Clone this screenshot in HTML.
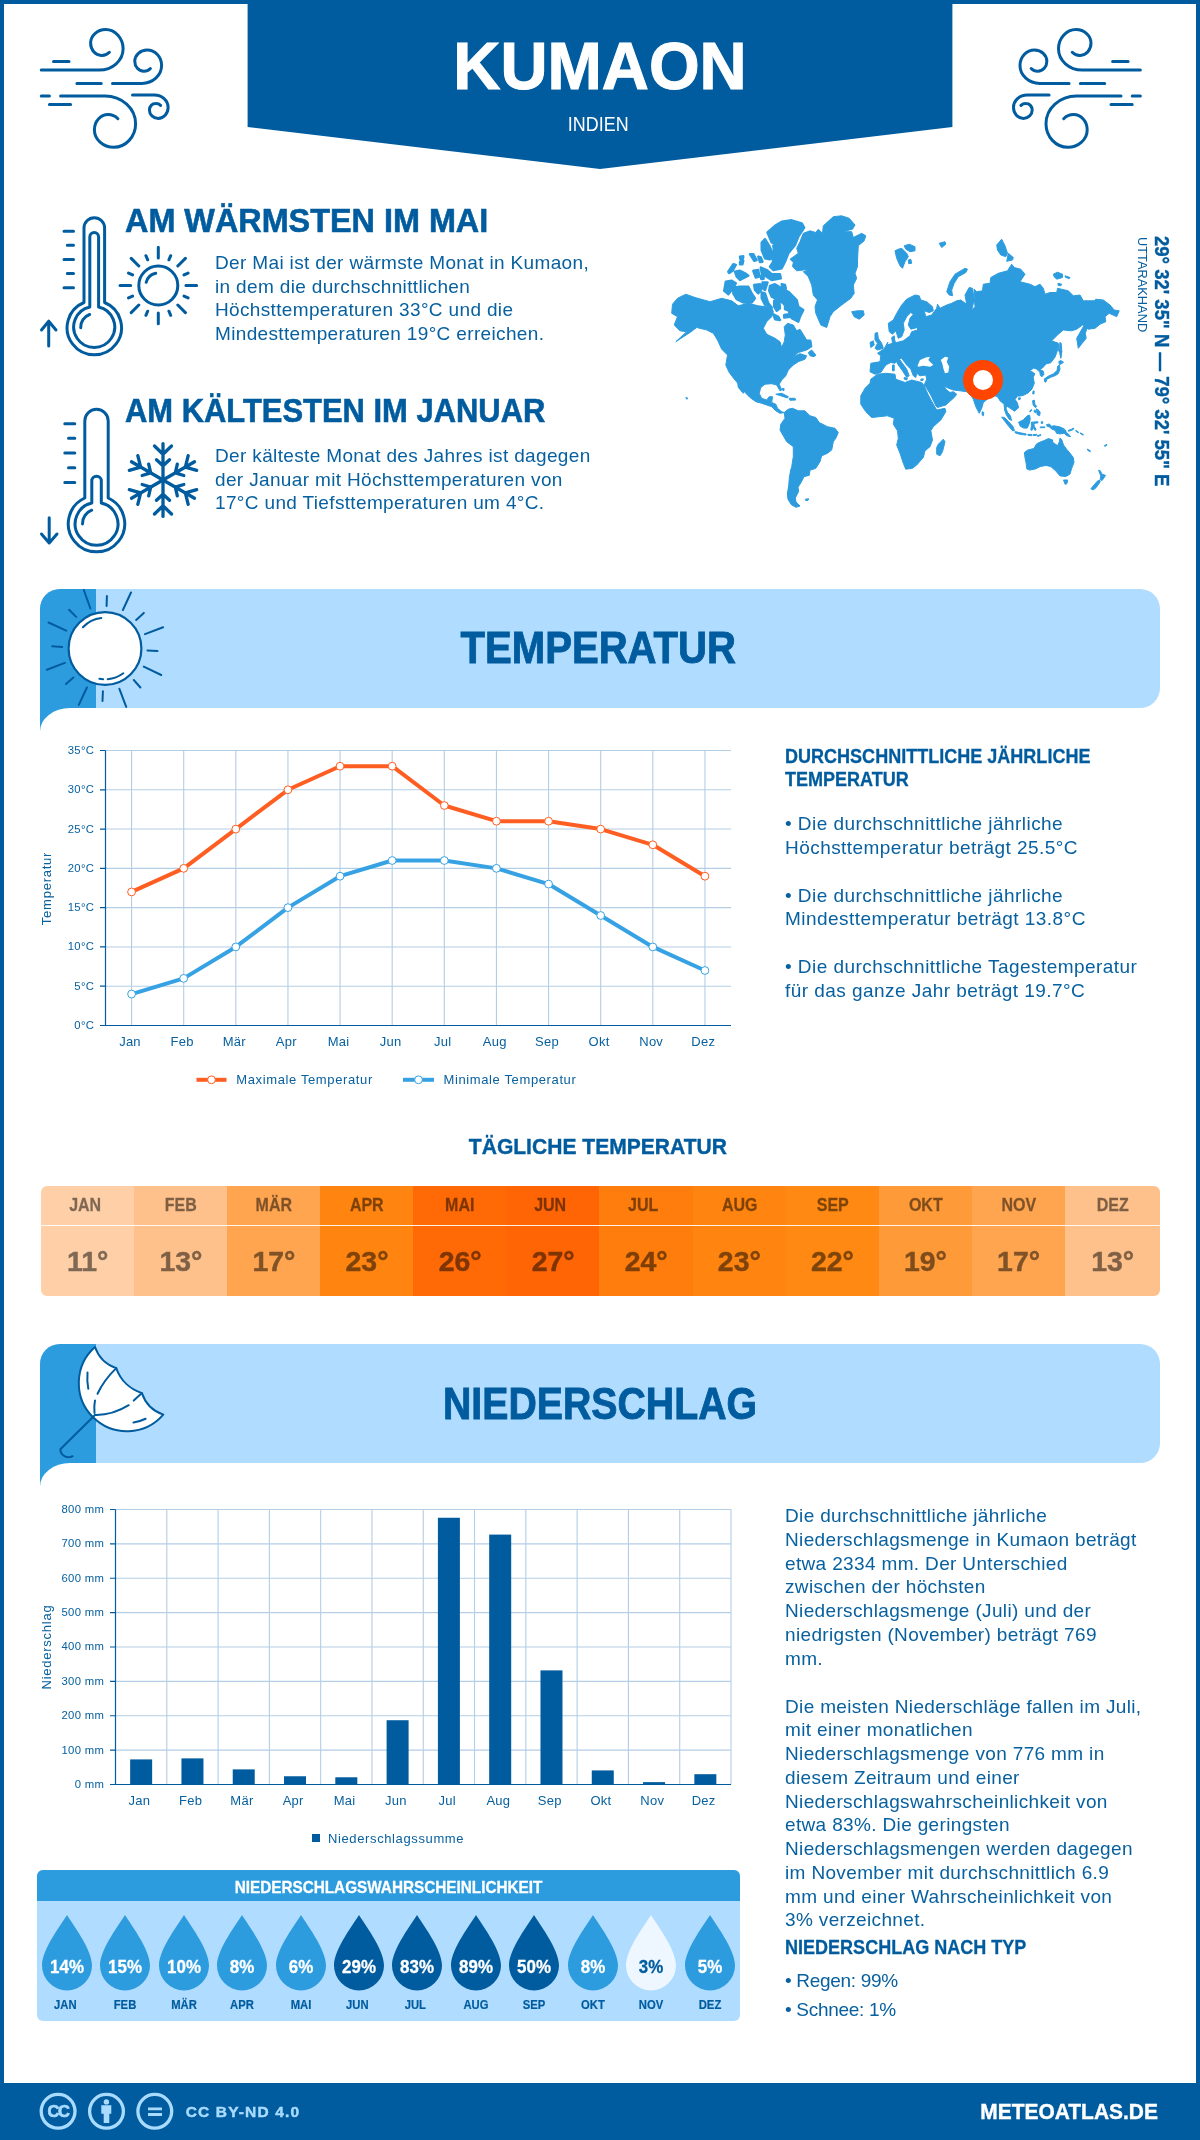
<!DOCTYPE html>
<html lang="de">
<head>
<meta charset="utf-8">
<title>Kumaon</title>
<style>
*{box-sizing:border-box;margin:0;padding:0}
html,body{width:1200px;height:2140px;overflow:hidden;background:#fff}
body{font-family:"Liberation Sans",sans-serif;color:#005c9e;position:relative}
#w{position:absolute;left:0;top:0;width:1200px;height:2140px;will-change:transform}
.abs{position:absolute}
.frame{position:absolute;left:0;top:0;width:1200px;height:2140px;border:4px solid #005c9e;border-bottom:none;pointer-events:none}
.t{position:absolute;white-space:nowrap;line-height:1}
.b{font-weight:bold}
.dk{color:#005c9e}
.md{color:#07609f}
.p{position:absolute;margin-top:.5px;white-space:nowrap;font-size:19px;line-height:23.75px;color:#07609f;letter-spacing:0.35px}
.band{position:absolute;left:40px;width:1120px;height:118px;background:#b0dcff;border-radius:22px}
.bandL{position:absolute;left:40px;width:56px;background:#2d9cdf}
.cell{position:absolute;top:0;height:110px;width:94px}
.cell .m{position:absolute;left:0;right:0;top:9.4px;text-align:center;font-weight:bold;font-size:18.2px;color:#000;opacity:.5;-webkit-text-stroke:.3px;line-height:20px;transform:scaleX(.88)}
.cell .v{position:absolute;left:0;right:0;top:59px;text-align:center;font-weight:bold;font-size:28.4px;color:#000;opacity:.5;-webkit-text-stroke:.5px;line-height:32px;transform:scaleX(1)}
.drop{position:absolute;top:1915.300px;width:50px;height:76px}
.drop span{position:absolute;left:-8px;right:-8px;top:41.900px;text-align:center;font-weight:bold;font-size:18.200px;color:#fff;line-height:20px;-webkit-text-stroke:.3px;transform:scaleX(.93)}
.dm{position:absolute;top:1998.300px;width:60px;text-align:center;font-weight:bold;font-size:13.100px;line-height:14px;color:#005c9e;-webkit-text-stroke:.2px;transform:scaleX(.86)}
</style>
</head>
<body>
<div id="w">
<!-- HEADER -->
<svg class="abs" style="left:0;top:0" width="1200" height="180" viewBox="0 0 1200 180">
  <polygon points="247.600,0 952.400,0 952.400,127 600,169 247.600,127" fill="#005c9e"/>
</svg>
<div class="t b" id="title" style="-webkit-text-stroke:1.1px;left:0;width:1200px;text-align:center;top:32.1px;font-size:67px;color:#fff;transform:scaleX(.973)">KUMAON</div>
<div class="t" id="sub" style="left:0;width:1196.5px;text-align:center;top:115px;font-size:19.4px;color:#fff;transform:scaleX(.925)">INDIEN</div>

<!-- WIND ICONS -->
<svg class="abs" style="left:0;top:0" width="1200" height="180" viewBox="0 0 1200 180" fill="none" stroke="#005c9e" stroke-width="3" stroke-linecap="round" stroke-linejoin="round">
  <g>
    <path d="M41.250,70 H99.400 A23.700,21.250 0 0 0 123.100,48.750 A17.500,19.150 0 0 0 105.600,29.600 A15,13.500 0 0 0 90.600,43.100 A10.650,12.300 0 0 0 101.250,55.400 A10.500,10.500 0 0 0 109.400,52.250"/>
    <path d="M112.500,83.400 H141.900 A19.700,17.800 0 0 0 161.600,65.600 A14.500,15.600 0 0 0 147.100,50 A12.350,11.250 0 0 0 134.750,61.250 A9,10 0 0 0 143.750,71.250 A9,9 0 0 0 150.400,68.500"/>
    <path d="M76.900,83.400 H101.250 M53.500,61.600 H69 M41.250,96 H49.400 M49.400,104.400 H70.600"/>
    <path d="M60.600,96 H105 A30.600,27.750 0 0 1 135.600,123.750 A21.850,23.500 0 0 1 113.750,147.250 A19.350,17.500 0 0 1 94.400,129.750 A13.700,15.150 0 0 1 108.100,114.600 A14,14 0 0 1 117.900,118.750"/>
    <path d="M132.500,95 H154.400 A13.700,12.500 0 0 1 168.100,107.500 A10,10.900 0 0 1 158.100,118.400 A8.700,8.400 0 0 1 149.400,110 A6.200,6.500 0 0 1 155.600,103.500 A6.500,6.500 0 0 1 160.600,105.400"/>
  </g>
  <g transform="translate(1181.600,0) scale(-1,1)">
    <path d="M41.250,70 H99.400 A23.700,21.250 0 0 0 123.100,48.750 A17.500,19.150 0 0 0 105.600,29.600 A15,13.500 0 0 0 90.600,43.100 A10.650,12.300 0 0 0 101.250,55.400 A10.500,10.500 0 0 0 109.400,52.250"/>
    <path d="M112.500,83.400 H141.900 A19.700,17.800 0 0 0 161.600,65.600 A14.500,15.600 0 0 0 147.100,50 A12.350,11.250 0 0 0 134.750,61.250 A9,10 0 0 0 143.750,71.250 A9,9 0 0 0 150.400,68.500"/>
    <path d="M76.900,83.400 H101.250 M53.500,61.600 H69 M41.250,96 H49.400 M49.400,104.400 H70.600"/>
    <path d="M60.600,96 H105 A30.600,27.750 0 0 1 135.600,123.750 A21.850,23.500 0 0 1 113.750,147.250 A19.350,17.500 0 0 1 94.400,129.750 A13.700,15.150 0 0 1 108.100,114.600 A14,14 0 0 1 117.900,118.750"/>
    <path d="M132.500,95 H154.400 A13.700,12.500 0 0 1 168.100,107.500 A10,10.900 0 0 1 158.100,118.400 A8.700,8.400 0 0 1 149.400,110 A6.200,6.500 0 0 1 155.600,103.500 A6.500,6.500 0 0 1 160.600,105.400"/>
  </g>
</svg>

<!-- INTRO TEXT -->
<div class="t b dk" id="h1" style="-webkit-text-stroke:.6px;left:124.5px;top:204px;font-size:33px;transform-origin:left;transform:scaleX(.981)">AM WÄRMSTEN IM MAI</div>
<div class="p" id="p1" style="left:215px;top:250.4px">Der Mai ist der wärmste Monat in Kumaon,<br>in dem die durchschnittlichen<br>Höchsttemperaturen 33°C und die<br>Mindesttemperaturen 19°C erreichen.</div>
<div class="t b dk" id="h2" style="-webkit-text-stroke:.6px;left:124.5px;top:394px;font-size:33px;transform-origin:left;transform:scaleX(.937)">AM KÄLTESTEN IM JANUAR</div>
<div class="p" id="p2" style="left:215px;top:443.4px">Der kälteste Monat des Jahres ist dagegen<br>der Januar mit Höchsttemperaturen von<br>17°C und Tiefsttemperaturen um 4°C.</div>
<!-- THERMOMETER WARM -->
<svg class="abs" style="left:30px;top:200px" width="200" height="170" viewBox="30 200 200 170" fill="none" stroke="#005c9e" stroke-width="3" stroke-linecap="round" stroke-linejoin="round">
  <path d="M84,302.500 V228 a10.300,10.300 0 0 1 20.600,0 V302.500 a27.200,27.200 0 1 1 -20.600,0 Z"/>
  <path d="M89.800,307 V237 a4.400,4.400 0 0 1 8.800,0 V307 a20.500,20.500 0 1 1 -8.800,0 Z"/>
  <path d="M80.7,327.7 A13.5,13.5 0 0 1 89.6,314.5"/>
  <path d="M64,231.200 H73.500 M67.300,245.300 H73.500 M64,259.500 H73.500 M67.300,273.500 H73.500 M64,287.700 H73.500"/>
  <path d="M48.700,346 V321.500 M41.500,330 L48.700,321.200 L56,330"/>
  <circle cx="158.3" cy="285.5" r="19.500"/>
  <path d="M146.2,282.3 A12.5,12.5 0 0 1 155.7,273.3"/>
  <path d="M185.9,285.5 L196.6,285.5 M177.8,305.0 L185.4,312.6 M158.3,313.1 L158.3,323.8 M138.8,305.0 L131.2,312.6 M130.7,285.5 L120.0,285.5 M138.8,266.0 L131.2,258.4 M158.3,257.9 L158.3,247.2 M177.8,266.0 L185.4,258.4"/>
  <path d="M184.0,296.1 L188.1,297.9 M168.9,311.2 L170.7,315.3 M147.7,311.2 L145.9,315.3 M132.6,296.1 L128.5,297.9 M132.6,274.9 L128.5,273.1 M147.7,259.8 L145.9,255.7 M168.9,259.8 L170.7,255.7 M184.0,274.9 L188.1,273.1"/>
</svg>
<!-- THERMOMETER COLD -->
<svg class="abs" style="left:30px;top:390px" width="200" height="170" viewBox="30 390 200 170" fill="none" stroke="#005c9e" stroke-width="3" stroke-linecap="round" stroke-linejoin="round">
  <path d="M84.800,498 V421 a11.700,11.700 0 0 1 23.400,0 V498 a28.200,28.200 0 1 1 -23.400,0 Z"/>
  <path d="M91.800,503 V481 a4.750,4.750 0 0 1 9.500,0 V503 a21.400,21.400 0 1 1 -9.500,0 Z"/>
  <path d="M82.5,523.9 A14,14 0 0 1 91.7,510.2"/>
  <path d="M64.800,423.700 H74.800 M68.500,438.300 H74.800 M64.800,453 H74.800 M68.500,467.800 H74.800 M64.800,482.500 H74.800"/>
  <path d="M49.200,517.800 V542.500 M41.500,534 L49.200,543 L57,534"/>
  <g stroke-width="3.300" transform="translate(163,480)">
    <path d="M0,0 V-36.400 M-8.500,-34 L0,-25.800 L8.500,-34 M-6.500,-20.300 L0,-14.200 L6.500,-20.300"/><g transform="rotate(60)"><path d="M0,0 V-36.400 M-8.500,-34 L0,-25.800 L8.500,-34 M-6.500,-20.300 L0,-14.200 L6.500,-20.300"/></g><g transform="rotate(120)"><path d="M0,0 V-36.400 M-8.500,-34 L0,-25.800 L8.500,-34 M-6.500,-20.300 L0,-14.200 L6.500,-20.300"/></g><g transform="rotate(180)"><path d="M0,0 V-36.400 M-8.500,-34 L0,-25.800 L8.500,-34 M-6.500,-20.300 L0,-14.200 L6.500,-20.300"/></g><g transform="rotate(240)"><path d="M0,0 V-36.400 M-8.500,-34 L0,-25.800 L8.500,-34 M-6.500,-20.300 L0,-14.200 L6.500,-20.300"/></g><g transform="rotate(300)"><path d="M0,0 V-36.400 M-8.500,-34 L0,-25.800 L8.500,-34 M-6.500,-20.300 L0,-14.200 L6.500,-20.300"/></g>
  </g>
</svg>
<!--MAP-->
<!-- WORLD MAP -->
<svg class="abs" style="left:660px;top:205px" width="480" height="320" viewBox="660 205 480 320">
  <path d="M672.5,304.2 L677.5,298.3 L685.8,294.2 L695.0,297.5 L710.0,301.7 L721.7,298.3 L731.7,300.8 L738.3,305.8 L748.3,303.3 L758.3,305.8 L765.0,306.7 L771.7,307.5 L773.3,311.7 L771.7,316.7 L766.7,321.7 L763.3,328.3 L766.7,334.2 L775.0,338.3 L780.0,341.7 L781.7,347.5 L784.2,341.7 L785.3,335.0 L784.2,326.7 L787.5,323.3 L793.3,325.0 L796.7,330.8 L800.0,329.2 L806.7,340.0 L810.8,340.0 L812.0,346.7 L806.7,350.0 L798.3,352.5 L793.3,356.7 L800.0,353.7 L806.7,355.8 L805.0,359.2 L798.3,361.7 L793.3,365.0 L788.3,370.0 L785.8,375.8 L781.7,380.0 L779.2,384.2 L781.7,390.0 L780.0,390.8 L776.7,385.0 L771.7,383.7 L765.0,384.2 L760.8,387.5 L759.2,393.3 L761.7,398.3 L766.7,400.0 L769.2,396.7 L772.5,396.7 L771.7,402.5 L775.8,404.2 L777.5,408.3 L781.7,411.7 L784.2,412.5 L780.0,413.3 L775.8,410.8 L771.7,406.7 L766.7,405.0 L761.7,403.3 L755.8,401.7 L750.0,397.5 L745.8,393.3 L740.0,385.8 L735.0,380.0 L729.2,372.5 L725.8,365.0 L727.5,355.0 L721.7,349.2 L717.5,340.0 L713.3,333.3 L706.7,330.0 L696.7,327.5 L690.0,332.5 L675.8,341.7 L686.7,331.7 L680.0,330.8 L674.2,325.0 L677.5,316.7 L671.7,313.3Z M737.5,381.7 L739.2,382.5 L744.2,391.7 L743.3,393.3 L738.3,387.5Z M808.3,352.5 L811.7,350.0 L815.8,355.0 L814.2,356.7 L810.0,355.8Z M775.8,394.2 L781.7,393.3 L788.3,396.7 L787.5,398.0 L780.8,395.8Z M789.2,398.3 L795.0,398.3 L795.8,400.0 L790.0,400.3Z M685.8,397.5 L688.0,398.3 L686.7,399.2Z M782.5,388.3 L784.2,388.7 L783.7,390.8 L782.3,390.0Z M810.0,269.2 L796.7,270.8 L792.5,266.7 L793.3,262.5 L790.0,259.2 L798.3,253.3 L796.7,248.3 L800.0,241.7 L803.3,233.3 L810.0,230.8 L815.8,232.5 L818.3,229.2 L822.5,233.3 L823.3,225.8 L833.3,216.7 L841.7,215.8 L849.2,218.3 L855.0,225.0 L852.5,229.2 L842.5,231.7 L851.7,231.7 L853.3,237.5 L861.7,233.3 L865.8,235.8 L864.2,240.8 L858.3,245.8 L857.5,260.0 L857.5,266.7 L855.0,273.3 L856.7,278.3 L853.3,285.0 L854.2,293.3 L850.8,298.3 L841.7,305.0 L833.3,311.7 L830.0,316.7 L826.7,327.5 L820.8,325.0 L815.8,313.3 L815.0,306.7 L817.5,300.0 L813.3,295.0 L811.7,285.0 L808.3,276.7 L803.3,271.7Z M851.7,311.7 L857.5,310.8 L863.3,310.8 L864.2,315.0 L859.2,319.2 L854.2,316.7Z M895.0,250.8 L898.3,249.2 L901.7,248.3 L906.7,253.3 L908.3,256.7 L905.0,261.7 L902.5,268.3 L900.0,265.8 L896.7,258.3Z M904.2,245.8 L909.2,244.2 L915.0,246.7 L915.0,250.8 L910.0,251.7 L905.8,249.2Z M908.3,260.0 L910.8,259.2 L911.7,263.3 L908.7,263.7Z M939.2,243.3 L945.0,241.7 L945.8,244.2 L941.7,247.5Z M946.7,291.7 L950.0,281.7 L955.0,274.2 L965.0,268.3 L967.5,269.2 L965.8,272.5 L958.3,276.7 L954.2,283.3 L951.7,290.0 L952.5,295.8 L949.2,295.0Z M996.7,245.0 L1001.7,239.2 L1005.0,245.8 L1007.5,253.3 L1005.8,256.7 L1000.8,255.0 L997.5,250.0Z M1008.3,253.3 L1013.3,257.5 L1012.5,260.0 L1006.7,261.3Z M1053.3,274.2 L1057.5,272.2 L1062.5,274.2 L1062.5,277.5 L1056.7,279.2 L1054.2,276.7Z M1065.0,275.8 L1070.0,277.5 L1069.2,278.7 L1065.3,277.2Z M1058.0,283.3 L1061.7,284.2 L1060.8,285.8 L1058.0,285.3Z M875.0,333.3 L877.5,332.5 L878.3,338.3 L881.7,343.3 L883.3,348.3 L877.5,350.0 L875.0,348.3 L877.5,343.3 L875.0,340.0Z M870.0,342.5 L873.3,340.8 L874.2,345.0 L870.8,347.5Z M888.3,323.3 L893.3,320.0 L896.7,313.3 L901.7,305.0 L906.7,299.2 L915.0,295.0 L919.2,295.8 L920.8,300.0 L926.7,301.7 L932.5,306.7 L933.3,310.8 L929.2,312.5 L924.2,310.8 L925.8,316.7 L931.7,315.0 L936.7,326.7 L926.7,336.7 L917.5,330.0 L917.5,327.5 L910.8,329.2 L908.3,325.0 L910.0,318.3 L913.3,314.2 L910.8,312.5 L906.7,316.7 L903.3,323.3 L904.2,330.0 L901.7,336.7 L898.3,338.3 L895.8,330.8 L892.5,334.2 L889.2,331.7Z M931.7,315.0 L936.7,308.3 L937.5,304.2 L940.0,308.3 L946.7,305.0 L951.7,303.3 L956.7,300.8 L960.8,300.0 L966.7,304.2 L965.0,295.0 L969.2,287.5 L972.5,288.3 L974.2,300.0 L971.7,310.0 L975.0,306.7 L974.2,296.7 L974.2,289.2 L976.7,291.7 L982.5,290.8 L983.3,284.2 L990.0,283.3 L990.8,277.5 L998.3,273.3 L1007.5,270.8 L1011.7,264.2 L1014.2,267.5 L1020.8,269.2 L1025.0,274.2 L1020.0,281.7 L1030.0,284.2 L1035.0,286.7 L1040.0,284.2 L1043.3,288.3 L1045.0,294.2 L1050.0,292.5 L1056.7,292.5 L1057.5,288.3 L1068.3,290.8 L1073.3,295.8 L1080.0,295.0 L1083.3,300.8 L1094.2,300.8 L1095.8,299.2 L1103.3,300.0 L1110.0,305.0 L1114.2,310.0 L1119.2,310.8 L1116.7,316.7 L1109.2,313.3 L1105.0,316.7 L1105.8,321.7 L1100.0,324.2 L1095.0,328.3 L1088.3,329.2 L1082.5,325.0 L1076.7,329.2 L1071.7,330.8 L1063.3,330.0 L1058.3,334.2 L1051.7,340.8 L1058.3,343.3 L1059.2,351.7 L1056.5,342.3 L1058.2,344.7 L1057.1,351.7 L1054.8,357.5 L1050.7,362.8 L1046.0,363.9 L1042.5,368.0 L1039.6,369.8 L1043.1,370.9 L1043.9,374.4 L1041.9,376.8 L1040.2,375.0 L1039.9,372.1 L1036.7,369.2 L1033.8,368.0 L1029.7,370.9 L1032.6,372.1 L1034.9,373.8 L1033.2,377.3 L1034.3,383.2 L1032.0,389.0 L1027.9,393.1 L1023.2,395.4 L1020.3,396.0 L1017.4,396.0 L1015.1,399.5 L1017.4,403.0 L1018.6,407.7 L1014.5,411.2 L1011.0,408.8 L1007.5,406.5 L1005.8,407.7 L1007.5,412.3 L1010.4,415.8 L1011.6,420.5 L1009.2,419.3 L1006.3,414.7 L1004.6,410.0 L1004.0,404.2 L1001.7,401.8 L1003.3,403.3 L1000.0,400.8 L997.5,396.7 L995.0,395.8 L988.3,398.3 L983.3,402.5 L981.7,408.3 L979.2,413.3 L975.8,406.7 L973.3,399.2 L971.7,396.7 L966.7,391.7 L960.0,390.8 L953.3,390.0 L946.7,387.5 L942.5,384.7 L943.7,384.7 L945.8,389.2 L950.0,392.5 L953.3,391.7 L956.7,394.2 L954.2,397.5 L945.8,405.0 L937.5,407.5 L935.8,405.8 L930.8,395.0 L925.8,386.7 L924.2,385.0 L926.7,379.2 L925.8,375.0 L920.0,375.8 L916.7,373.3 L915.8,377.5 L913.3,375.8 L910.8,369.2 L906.7,365.0 L901.7,358.3 L897.5,360.0 L895.0,363.3 L890.8,362.5 L885.8,365.0 L880.8,372.5 L875.0,374.2 L870.0,371.7 L870.8,363.3 L880.0,361.7 L880.8,355.8 L877.5,353.3 L884.2,348.7 L888.0,342.0 L886.7,345.0 L892.5,343.3 L891.7,337.5 L894.2,335.8 L895.0,341.7 L896.7,342.5 L903.3,340.8 L910.0,335.8 L911.7,331.7 L917.5,330.0Z M1086.7,322.5 L1088.0,325.8 L1085.3,333.3 L1086.2,338.3 L1080.8,345.0 L1078.3,348.3 L1076.7,338.3 L1080.0,332.5 L1083.3,326.7Z M1060.0,343.3 L1061.7,351.7 L1060.8,358.3 L1059.7,351.7Z M897.2,359.2 L900.0,360.0 L906.7,369.2 L909.2,375.8 L906.7,377.5 L902.5,370.8 L898.3,365.0 L896.3,361.3Z M904.2,377.5 L907.5,378.3 L906.7,380.0 L904.2,379.2Z M892.5,365.0 L894.2,365.0 L894.2,370.8 L892.5,370.8Z M920.8,379.2 L923.3,378.8 L923.0,380.3 L920.8,380.5Z M870.8,379.2 L877.5,374.2 L885.8,373.3 L895.0,374.2 L895.8,379.2 L905.0,382.5 L911.7,380.0 L921.7,382.5 L924.2,385.8 L928.3,395.0 L933.3,404.2 L936.7,410.0 L945.0,408.3 L945.8,411.7 L940.8,420.0 L933.3,426.7 L930.8,430.8 L932.5,440.0 L930.0,446.7 L925.0,450.8 L923.3,457.5 L916.7,465.0 L912.5,468.3 L905.8,469.2 L903.3,463.3 L900.0,453.3 L896.7,445.0 L898.3,438.3 L897.5,430.8 L893.3,424.2 L894.2,418.3 L887.5,415.8 L879.2,416.7 L871.7,417.5 L865.8,411.7 L860.8,404.2 L860.8,395.8 L865.0,388.3 L870.0,383.3Z M938.3,444.2 L943.3,439.2 L945.0,441.7 L942.5,451.7 L940.0,455.8 L936.7,454.2 L936.7,447.5Z M982.2,411.7 L983.8,412.5 L983.3,415.8 L982.0,414.7Z M1058.8,361.6 L1060.6,360.4 L1063.5,362.2 L1061.2,363.9 L1059.4,364.5Z M1059.4,365.1 L1060.0,369.2 L1058.2,373.8 L1055.3,375.6 L1050.7,377.3 L1046.0,379.7 L1044.8,381.4 L1044.2,379.1 L1048.3,376.2 L1053.6,373.8 L1057.1,370.3 L1057.7,366.2Z M1044.8,379.7 L1046.6,380.2 L1045.8,382.2 L1044.6,381.4Z M1060.0,342.3 L1061.2,343.5 L1061.8,351.7 L1060.6,357.5 L1060.0,351.7Z M1033.2,390.8 L1034.3,391.3 L1033.8,394.2 L1032.6,393.7Z M1018.6,397.8 L1020.3,397.8 L1020.1,399.5 L1018.6,399.7Z M1032.6,400.7 L1034.3,400.1 L1034.9,404.2 L1036.7,406.5 L1035.5,407.7 L1033.2,405.3Z M1036.1,408.8 L1038.4,410.0 L1040.2,412.3 L1039.6,415.8 L1037.2,414.7 L1036.7,411.8Z M1034.3,410.0 L1036.1,411.2 L1035.5,412.9 L1034.1,411.8Z M1029.7,411.2 L1031.4,409.4 L1031.8,410.2 L1030.0,412.1Z M1018.6,422.2 L1023.2,419.9 L1027.3,415.8 L1029.7,415.2 L1030.2,419.3 L1029.1,424.0 L1027.3,428.1 L1023.8,428.1 L1020.3,426.3Z M1001.7,417.0 L1004.6,417.6 L1008.7,421.7 L1012.8,426.3 L1014.5,430.4 L1012.8,431.0 L1008.7,426.3 L1004.6,421.1Z M1015.1,431.6 L1020.3,432.8 L1026.2,433.9 L1025.9,435.1 L1019.8,434.3 L1015.1,432.8Z M1027.9,434.3 L1032.0,434.5 L1031.8,435.7 L1027.9,435.4Z M1033.2,434.5 L1036.7,434.3 L1036.7,435.2 L1033.2,435.7Z M1037.2,435.7 L1040.8,434.5 L1041.0,435.2 L1037.8,436.6Z M1031.4,422.2 L1037.8,421.7 L1038.1,422.8 L1033.8,423.4 L1034.3,426.3 L1036.1,429.8 L1034.9,430.4 L1033.2,427.5 L1032.0,430.4 L1030.8,429.8 L1031.4,425.8Z M1041.3,421.7 L1042.7,421.7 L1042.7,423.4 L1041.3,423.4Z M1040.2,426.9 L1044.8,426.9 L1044.8,427.7 L1040.2,427.7Z M1046.6,424.6 L1049.5,424.0 L1051.2,426.3 L1054.2,425.8 L1060.0,426.9 L1064.7,429.2 L1066.4,432.2 L1069.9,435.7 L1070.5,436.8 L1067.0,435.7 L1064.1,433.3 L1060.0,433.9 L1056.5,433.3 L1055.3,430.4 L1051.8,429.2 L1049.5,426.9 L1047.2,426.3Z M1068.2,430.4 L1071.7,429.2 L1073.4,428.1 L1073.8,428.9 L1071.7,430.4 L1068.4,431.2Z M1075.8,430.4 L1078.7,432.2 L1078.4,432.8 L1075.8,431.2Z M1080.4,432.8 L1083.3,434.5 L1083.1,435.2 L1080.4,433.6Z M1087.4,449.1 L1090.3,450.8 L1090.1,451.8 L1087.4,450.0Z M1104.3,445.6 L1106.7,444.4 L1106.9,445.2 L1104.9,446.4Z M1024.4,452.6 L1027.3,450.2 L1033.8,448.5 L1036.7,443.8 L1040.2,442.1 L1044.8,440.3 L1048.3,438.6 L1052.4,439.8 L1053.0,442.7 L1057.7,445.6 L1059.4,441.5 L1060.0,438.0 L1061.8,439.8 L1063.5,445.0 L1067.0,449.7 L1070.5,453.8 L1073.4,457.8 L1074.0,462.5 L1071.7,468.3 L1069.9,474.2 L1065.8,476.5 L1060.0,475.9 L1056.5,471.8 L1053.6,468.9 L1050.7,466.6 L1046.0,465.4 L1040.2,466.6 L1035.5,468.9 L1029.7,470.1 L1026.8,468.9 L1026.2,463.7 L1025.0,457.8Z M1063.5,480.0 L1067.6,480.0 L1067.0,483.5 L1065.2,484.4Z M1098.5,470.1 L1100.2,470.7 L1102.0,474.2 L1105.5,475.3 L1103.8,478.2 L1102.0,480.6 L1100.2,479.4 L1100.8,475.9Z M1099.7,480.0 L1100.2,481.8 L1096.2,487.6 L1093.2,489.9 L1090.9,488.8 L1093.8,485.2 L1097.3,481.2Z M784.2,412.5 L788.3,409.2 L792.5,408.3 L798.3,410.8 L805.0,410.8 L810.0,415.8 L815.8,417.5 L819.2,422.5 L827.5,426.7 L835.0,428.3 L838.3,432.5 L835.8,438.3 L833.3,441.7 L831.7,450.0 L827.5,453.3 L821.7,455.8 L820.0,461.7 L815.8,468.3 L810.8,470.0 L810.0,470.0 L809.3,475.3 L804.0,476.7 L801.3,482.0 L798.0,487.3 L798.7,491.3 L795.3,498.0 L796.0,502.0 L800.0,506.0 L796.0,507.3 L791.3,504.7 L788.0,499.3 L787.3,494.0 L788.7,486.0 L789.3,478.0 L790.7,470.0 L791.7,466.7 L793.3,456.7 L793.3,446.7 L786.7,441.7 L783.3,435.8 L780.0,430.0 L780.8,424.2 L785.0,418.3Z M805.3,499.3 L808.7,498.7 L808.0,500.4 L805.6,500.4Z" fill="#2d9cdf" stroke="#2d9cdf" stroke-width="1" stroke-linejoin="round"/>
  <path d="M767.5,232.5 L775.0,225.8 L781.7,221.7 L791.7,220.3 L801.7,223.3 L804.2,227.5 L798.3,236.7 L795.0,245.0 L788.3,253.3 L785.0,261.7 L781.7,268.3 L773.3,270.0 L770.0,266.7 L773.3,261.7 L771.7,256.7 L774.2,251.7 L773.3,245.8 L778.3,245.0 L771.7,242.5Z M761.7,242.5 L765.0,239.2 L769.2,245.8 L772.5,253.3 L770.0,259.2 L765.0,258.3 L761.7,250.0Z M760.8,267.5 L766.7,270.0 L771.7,274.2 L780.0,274.2 L780.8,278.3 L771.7,280.0 L766.7,276.7 L761.7,273.3Z M770.0,285.8 L775.0,284.2 L781.7,288.3 L788.3,291.7 L796.7,300.0 L798.3,306.7 L803.3,310.0 L800.0,316.7 L798.3,321.7 L791.7,318.3 L788.3,310.0 L783.3,303.3 L778.3,300.0 L771.7,296.7 L769.2,290.8Z M733.3,287.5 L740.0,286.7 L748.3,286.7 L751.7,293.3 L755.0,298.3 L751.7,302.5 L743.3,302.5 L736.7,299.2 L733.3,293.3Z M725.8,281.7 L731.7,280.8 L735.8,283.3 L731.7,290.0 L728.3,294.2 L724.2,290.8Z M735.0,271.7 L740.0,270.8 L745.0,273.3 L748.3,275.8 L743.3,278.3 L740.0,280.0 L736.7,276.7Z M728.3,271.7 L733.3,264.2 L735.8,265.0 L732.5,270.8 L729.2,273.0Z M753.3,270.8 L758.3,270.0 L759.2,276.7 L755.8,277.5Z M750.0,254.2 L753.3,254.2 L756.7,260.0 L754.2,260.8Z M740.0,261.7 L743.3,260.8 L742.5,264.2 L740.0,264.2Z M758.3,256.7 L760.8,257.5 L762.5,261.7 L760.0,262.0Z M754.2,285.0 L760.0,284.2 L760.8,290.0 L758.3,293.3 L755.0,290.0Z M762.5,282.5 L767.5,282.5 L765.0,290.0 L762.5,288.3Z M774.2,300.8 L779.2,300.0 L780.0,308.3 L776.7,310.8 L774.2,306.7Z M761.7,292.5 L765.0,293.3 L768.3,303.3 L771.7,307.5 L765.0,305.0 L761.7,298.3Z M773.3,314.2 L778.3,316.7 L780.0,320.0 L775.0,319.2Z M784.2,315.0 L789.2,314.2 L790.0,316.7 L784.2,317.5Z M785.0,305.0 L788.3,305.8 L787.5,310.0 L785.0,309.2Z M740.0,256.7 L743.3,256.3 L743.0,258.7 L740.3,259.0Z M760.8,275.8 L763.3,275.3 L763.7,278.7 L761.3,279.0Z M781.7,284.2 L785.0,285.0 L785.8,288.3 L782.5,287.5Z" fill="#2d9cdf" stroke="#2d9cdf" stroke-width="2.400" stroke-linejoin="round"/>
  <path d="M917.5,365.8 L920.0,360.0 L925.8,357.5 L930.0,356.7 L928.3,360.0 L933.3,365.0 L930.0,366.7 L923.3,365.8 L918.3,366.7Z M940.8,360.0 L945.0,356.7 L948.3,357.5 L946.7,361.7 L949.2,366.7 L948.3,372.5 L945.0,373.3 L943.3,368.3 L942.5,364.2Z" fill="#fff"/>
  <circle cx="983" cy="380" r="15" fill="#fff" stroke="#ff4500" stroke-width="10"/>
</svg>
<div class="t b dk" id="co" style="-webkit-text-stroke:.4px;left:1172.5px;top:235.9px;font-size:21.1px;transform-origin:0 0;transform:rotate(90deg) scaleX(.879)">29° 32' 35" N — 79° 32' 55" E</div>
<div class="t md" id="ut" style="left:1149.3px;top:236.8px;font-size:13.4px;transform-origin:0 0;transform:rotate(90deg) scaleX(.957)">UTTARAKHAND</div>
<!--TEMP-->
<!-- TEMPERATURE BAND -->
<div class="abs" style="left:40px;top:707.500px;width:30px;height:23.500px;background:#2d9cdf"></div>
<div class="abs" style="left:40px;top:707.500px;width:60px;height:30px;background:#fff;border-top-left-radius:30px 23.5px"></div>
<div class="band" style="top:588.500px;height:119px;border-radius:20px 20px 20px 0"></div>
<div class="abs" style="left:40px;top:588.500px;width:56px;height:119px;background:#2d9cdf;border-top-left-radius:20px"></div>
<svg class="abs" style="left:40px;top:585px" width="140" height="125" viewBox="40 585 140 125" fill="none" stroke="#005c9e" stroke-width="2" stroke-linecap="round">
  <clipPath id="cb1"><rect x="40" y="589" width="140" height="119"/></clipPath>
  <g clip-path="url(#cb1)"><path d="M83.8,590.0 L90.4,608.5 M106.9,596.0 L106.6,606.0 M131.0,592.5 L122.9,610.0 M143.8,612.9 L136.2,620.0 M163.1,627.2 L145.0,634.1 M157.5,651.0 L147.5,650.4 M161.2,675.0 L143.8,666.6 M140.4,687.5 L133.8,680.0 M126.2,706.9 L119.4,688.8 M102.5,701.0 L102.9,691.2 M78.8,704.8 L86.9,687.5 M66.0,684.1 L73.4,677.5 M46.9,669.8 L64.8,662.9 M52.2,646.2 L62.2,646.9 M48.5,622.5 L66.2,630.6 M69.1,609.8 L76.2,616.9"/></g>
  <circle cx="105" cy="648.5" r="36.400" fill="#fff" stroke-width="2.200"/>
  <path d="M82.9,627.2 A30.7,30.7 0 0 1 101.3,618.0"/>
  <path d="M99.4,678.8 A30.8,30.8 0 0 0 103.1,679.2"/>
  <path d="M107.7,679.2 A30.8,30.8 0 0 0 123.3,673.3"/>
</svg>
<div class="t b dk" id="tt" style="-webkit-text-stroke:.9px;left:0;width:1196.6px;text-align:center;top:625.7px;font-size:44px;transform:scaleX(.911)">TEMPERATUR</div>
<svg class="abs" style="left:30px;top:735px" width="740" height="370" viewBox="30 735 740 370" font-family="Liberation Sans, sans-serif">
<path d="M105.5,986.21 H731.0 M105.5,946.93 H731.0 M105.5,907.64 H731.0 M105.5,868.36 H731.0 M105.5,829.07 H731.0 M105.5,789.79 H731.0 M105.5,750.50 H731.0 M131.56,750.5 V1025.5 M183.69,750.5 V1025.5 M235.81,750.5 V1025.5 M287.94,750.5 V1025.5 M340.06,750.5 V1025.5 M392.19,750.5 V1025.5 M444.31,750.5 V1025.5 M496.44,750.5 V1025.5 M548.56,750.5 V1025.5 M600.69,750.5 V1025.5 M652.81,750.5 V1025.5 M704.94,750.5 V1025.5" stroke="#b4cee6" stroke-width="1.100" fill="none"/>
<path d="M105.5,750.5 V1025.5 H731.0 M100.0,1025.50 H105.5 M100.0,986.21 H105.5 M100.0,946.93 H105.5 M100.0,907.64 H105.5 M100.0,868.36 H105.5 M100.0,829.07 H105.5 M100.0,789.79 H105.5 M100.0,750.50 H105.5" stroke="#005c9e" stroke-width="1.200" fill="none"/>
<text x="94.300" y="1028.9" text-anchor="end" font-size="11.300" fill="#07609f" letter-spacing=".35">0°C</text>
<text x="94.300" y="989.6" text-anchor="end" font-size="11.300" fill="#07609f" letter-spacing=".35">5°C</text>
<text x="94.300" y="950.3" text-anchor="end" font-size="11.300" fill="#07609f" letter-spacing=".35">10°C</text>
<text x="94.300" y="911.0" text-anchor="end" font-size="11.300" fill="#07609f" letter-spacing=".35">15°C</text>
<text x="94.300" y="871.8" text-anchor="end" font-size="11.300" fill="#07609f" letter-spacing=".35">20°C</text>
<text x="94.300" y="832.5" text-anchor="end" font-size="11.300" fill="#07609f" letter-spacing=".35">25°C</text>
<text x="94.300" y="793.2" text-anchor="end" font-size="11.300" fill="#07609f" letter-spacing=".35">30°C</text>
<text x="94.300" y="753.9" text-anchor="end" font-size="11.300" fill="#07609f" letter-spacing=".35">35°C</text>
<text x="130.0" y="1045.800" text-anchor="middle" font-size="13" fill="#07609f" letter-spacing=".25">Jan</text>
<text x="182.1" y="1045.800" text-anchor="middle" font-size="13" fill="#07609f" letter-spacing=".25">Feb</text>
<text x="234.2" y="1045.800" text-anchor="middle" font-size="13" fill="#07609f" letter-spacing=".25">Mär</text>
<text x="286.3" y="1045.800" text-anchor="middle" font-size="13" fill="#07609f" letter-spacing=".25">Apr</text>
<text x="338.5" y="1045.800" text-anchor="middle" font-size="13" fill="#07609f" letter-spacing=".25">Mai</text>
<text x="390.6" y="1045.800" text-anchor="middle" font-size="13" fill="#07609f" letter-spacing=".25">Jun</text>
<text x="442.7" y="1045.800" text-anchor="middle" font-size="13" fill="#07609f" letter-spacing=".25">Jul</text>
<text x="494.8" y="1045.800" text-anchor="middle" font-size="13" fill="#07609f" letter-spacing=".25">Aug</text>
<text x="547.0" y="1045.800" text-anchor="middle" font-size="13" fill="#07609f" letter-spacing=".25">Sep</text>
<text x="599.1" y="1045.800" text-anchor="middle" font-size="13" fill="#07609f" letter-spacing=".25">Okt</text>
<text x="651.2" y="1045.800" text-anchor="middle" font-size="13" fill="#07609f" letter-spacing=".25">Nov</text>
<text x="703.3" y="1045.800" text-anchor="middle" font-size="13" fill="#07609f" letter-spacing=".25">Dez</text>
<text transform="translate(50.500,888.500) rotate(-90)" text-anchor="middle" font-size="13" fill="#07609f" letter-spacing=".75">Temperatur</text>
<polyline points="131.56,891.93 183.69,868.36 235.81,829.07 287.94,789.79 340.06,766.21 392.19,766.21 444.31,805.50 496.44,821.21 548.56,821.21 600.69,829.07 652.81,844.79 704.94,876.21" fill="none" stroke="#ff5e22" stroke-width="4" stroke-linejoin="round"/>
<circle cx="131.56" cy="891.93" r="3.900" fill="#fff" stroke="#ff5e22" stroke-width="1"/>
<circle cx="183.69" cy="868.36" r="3.900" fill="#fff" stroke="#ff5e22" stroke-width="1"/>
<circle cx="235.81" cy="829.07" r="3.900" fill="#fff" stroke="#ff5e22" stroke-width="1"/>
<circle cx="287.94" cy="789.79" r="3.900" fill="#fff" stroke="#ff5e22" stroke-width="1"/>
<circle cx="340.06" cy="766.21" r="3.900" fill="#fff" stroke="#ff5e22" stroke-width="1"/>
<circle cx="392.19" cy="766.21" r="3.900" fill="#fff" stroke="#ff5e22" stroke-width="1"/>
<circle cx="444.31" cy="805.50" r="3.900" fill="#fff" stroke="#ff5e22" stroke-width="1"/>
<circle cx="496.44" cy="821.21" r="3.900" fill="#fff" stroke="#ff5e22" stroke-width="1"/>
<circle cx="548.56" cy="821.21" r="3.900" fill="#fff" stroke="#ff5e22" stroke-width="1"/>
<circle cx="600.69" cy="829.07" r="3.900" fill="#fff" stroke="#ff5e22" stroke-width="1"/>
<circle cx="652.81" cy="844.79" r="3.900" fill="#fff" stroke="#ff5e22" stroke-width="1"/>
<circle cx="704.94" cy="876.21" r="3.900" fill="#fff" stroke="#ff5e22" stroke-width="1"/>
<polyline points="131.56,994.07 183.69,978.36 235.81,946.93 287.94,907.64 340.06,876.21 392.19,860.50 444.31,860.50 496.44,868.36 548.56,884.07 600.69,915.50 652.81,946.93 704.94,970.50" fill="none" stroke="#37a2e3" stroke-width="4" stroke-linejoin="round"/>
<circle cx="131.56" cy="994.07" r="3.900" fill="#fff" stroke="#37a2e3" stroke-width="1"/>
<circle cx="183.69" cy="978.36" r="3.900" fill="#fff" stroke="#37a2e3" stroke-width="1"/>
<circle cx="235.81" cy="946.93" r="3.900" fill="#fff" stroke="#37a2e3" stroke-width="1"/>
<circle cx="287.94" cy="907.64" r="3.900" fill="#fff" stroke="#37a2e3" stroke-width="1"/>
<circle cx="340.06" cy="876.21" r="3.900" fill="#fff" stroke="#37a2e3" stroke-width="1"/>
<circle cx="392.19" cy="860.50" r="3.900" fill="#fff" stroke="#37a2e3" stroke-width="1"/>
<circle cx="444.31" cy="860.50" r="3.900" fill="#fff" stroke="#37a2e3" stroke-width="1"/>
<circle cx="496.44" cy="868.36" r="3.900" fill="#fff" stroke="#37a2e3" stroke-width="1"/>
<circle cx="548.56" cy="884.07" r="3.900" fill="#fff" stroke="#37a2e3" stroke-width="1"/>
<circle cx="600.69" cy="915.50" r="3.900" fill="#fff" stroke="#37a2e3" stroke-width="1"/>
<circle cx="652.81" cy="946.93" r="3.900" fill="#fff" stroke="#37a2e3" stroke-width="1"/>
<circle cx="704.94" cy="970.50" r="3.900" fill="#fff" stroke="#37a2e3" stroke-width="1"/>
<path d="M196.500,1079.800 H226.500" stroke="#ff5e22" stroke-width="4"/><circle cx="211.500" cy="1079.800" r="3.900" fill="#fff" stroke="#ff5e22"/>
<text x="236.300" y="1084.300" font-size="13" fill="#07609f" letter-spacing=".62">Maximale Temperatur</text>
<path d="M403,1079.800 H434" stroke="#37a2e3" stroke-width="4"/><circle cx="418.500" cy="1079.800" r="3.900" fill="#fff" stroke="#37a2e3"/>
<text x="443.500" y="1084.300" font-size="13" fill="#07609f" letter-spacing=".62">Minimale Temperatur</text>
</svg>
<div class="t b dk" id="ht1" style="-webkit-text-stroke:.3px;left:785px;top:745.4px;font-size:19.6px;line-height:23px;transform-origin:left;transform:scaleX(.92)">DURCHSCHNITTLICHE JÄHRLICHE<br>TEMPERATUR</div>
<div class="p" id="pt1" style="letter-spacing:.45px;left:785px;top:811.6px">• Die durchschnittliche jährliche<br>Höchsttemperatur beträgt 25.5°C</div>
<div class="p" id="pt2" style="letter-spacing:.45px;left:785px;top:883px">• Die durchschnittliche jährliche<br>Mindesttemperatur beträgt 13.8°C</div>
<div class="p" id="pt3" style="letter-spacing:.45px;left:785px;top:954.5px">• Die durchschnittliche Tagestemperatur<br>für das ganze Jahr beträgt 19.7°C</div>
<div class="t b dk" id="tdt" style="-webkit-text-stroke:.4px;left:0;width:1195.8px;text-align:center;top:1135.1px;font-size:22.9px;transform:scaleX(.92)">TÄGLICHE TEMPERATUR</div>
<!--TABLE-->
<!-- DAILY TABLE -->
<div class="abs" style="left:41px;top:1186px;width:1119px;height:110px;border-radius:6px;overflow:hidden">
<div class="cell" style="left:0.0px;width:93.58px;background:#ffd0a8"><div class="m" style="padding-right:6px">JAN</div><div class="v">11°</div></div>
<div class="cell" style="left:93.08px;width:93.58px;background:#ffc18b"><div class="m">FEB</div><div class="v">13°</div></div>
<div class="cell" style="left:186.16px;width:93.58px;background:#ffa550"><div class="m">MÄR</div><div class="v">17°</div></div>
<div class="cell" style="left:279.24px;width:93.58px;background:#ff8410"><div class="m">APR</div><div class="v">23°</div></div>
<div class="cell" style="left:372.32px;width:93.58px;background:#ff6a06"><div class="m">MAI</div><div class="v">26°</div></div>
<div class="cell" style="left:465.4px;width:93.58px;background:#ff6505"><div class="m" style="padding-right:6px">JUN</div><div class="v">27°</div></div>
<div class="cell" style="left:558.48px;width:93.58px;background:#ff7d0c"><div class="m" style="padding-right:6px">JUL</div><div class="v">24°</div></div>
<div class="cell" style="left:651.56px;width:93.58px;background:#ff8410"><div class="m">AUG</div><div class="v">23°</div></div>
<div class="cell" style="left:744.64px;width:93.58px;background:#ff8912"><div class="m">SEP</div><div class="v">22°</div></div>
<div class="cell" style="left:837.72px;width:93.58px;background:#ff9a38"><div class="m">OKT</div><div class="v">19°</div></div>
<div class="cell" style="left:930.8px;width:93.58px;background:#ffa550"><div class="m">NOV</div><div class="v">17°</div></div>
<div class="cell" style="left:1023.88px;width:95.62px;background:#ffc18b"><div class="m">DEZ</div><div class="v">13°</div></div>
<div class="abs" style="left:0;top:39px;width:1119px;height:1px;background:#fff;opacity:.9"></div>
</div>
<!--PRECIP-->
<!-- PRECIP BAND -->
<div class="abs" style="left:40px;top:1462.500px;width:30px;height:23.500px;background:#2d9cdf"></div>
<div class="abs" style="left:40px;top:1462.500px;width:60px;height:30px;background:#fff;border-top-left-radius:30px 23.5px"></div>
<div class="band" style="top:1343.500px;height:119px;border-radius:20px 20px 20px 0"></div>
<div class="abs" style="left:40px;top:1343.500px;width:56px;height:119px;background:#2d9cdf;border-top-left-radius:20px"></div>
<svg class="abs" style="left:40px;top:1340px" width="140" height="125" viewBox="40 1340 140 125" fill="none" stroke="#005c9e" stroke-width="2" stroke-linecap="round" stroke-linejoin="round">
  <path d="M95,1347 A48.150,48.150 0 1 0 163.300,1414.600 A34,34 0 0 1 141.900,1393.100 A40,40 0 0 1 116.250,1368.100 A34,34 0 0 1 95,1347 Z" fill="#fff"/>
  <path d="M94.500,1413 Q93.800,1406 95,1400.500 M97.500,1393.750 Q104,1380 116.250,1368.100"/>
  <path d="M95,1415 Q112,1415.500 128.750,1405.200 M133.750,1400.600 L141.900,1393.100"/>
  <path d="M87.500,1372.500 Q86.800,1381 88.300,1388.750 M133.500,1422.500 Q140,1421.500 145.600,1418.750"/>
  <path d="M95,1415 L60.300,1449.200 A8.300,8.300 0 0 0 72.600,1456.200"/>
</svg>
<div class="t b dk" id="tn" style="-webkit-text-stroke:.9px;left:0;width:1200px;text-align:center;top:1382px;font-size:44px;transform:scaleX(.892)">NIEDERSCHLAG</div>
<svg class="abs" style="left:30px;top:1495px" width="740" height="370" viewBox="30 1495 740 370" font-family="Liberation Sans, sans-serif">
<path d="M115.5,1750.12 H731.0 M115.5,1715.75 H731.0 M115.5,1681.38 H731.0 M115.5,1647.00 H731.0 M115.5,1612.62 H731.0 M115.5,1578.25 H731.0 M115.5,1543.88 H731.0 M115.5,1509.50 H731.0 M166.79,1509.5 V1784.5 M218.08,1509.5 V1784.5 M269.38,1509.5 V1784.5 M320.67,1509.5 V1784.5 M371.96,1509.5 V1784.5 M423.25,1509.5 V1784.5 M474.54,1509.5 V1784.5 M525.83,1509.5 V1784.5 M577.12,1509.5 V1784.5 M628.42,1509.5 V1784.5 M679.71,1509.5 V1784.5 M731.00,1509.5 V1784.5" stroke="#b4cee6" stroke-width="1.100" fill="none"/>
<rect x="130.15" y="1759.41" width="22" height="25.09" fill="#005c9e"/>
<rect x="181.44" y="1758.38" width="22" height="26.12" fill="#005c9e"/>
<rect x="232.73" y="1769.38" width="22" height="15.12" fill="#005c9e"/>
<rect x="284.02" y="1776.25" width="22" height="8.25" fill="#005c9e"/>
<rect x="335.31" y="1777.28" width="22" height="7.22" fill="#005c9e"/>
<rect x="386.60" y="1720.22" width="22" height="64.28" fill="#005c9e"/>
<rect x="437.90" y="1517.75" width="22" height="266.75" fill="#005c9e"/>
<rect x="489.19" y="1534.59" width="22" height="249.91" fill="#005c9e"/>
<rect x="540.48" y="1670.38" width="22" height="114.12" fill="#005c9e"/>
<rect x="591.77" y="1770.41" width="22" height="14.09" fill="#005c9e"/>
<rect x="643.06" y="1782.13" width="22" height="2.37" fill="#005c9e"/>
<rect x="694.35" y="1774.19" width="22" height="10.31" fill="#005c9e"/>
<path d="M115.5,1509.5 V1784.5 H731.0 M110.0,1784.50 H115.5 M110.0,1750.12 H115.5 M110.0,1715.75 H115.5 M110.0,1681.38 H115.5 M110.0,1647.00 H115.5 M110.0,1612.62 H115.5 M110.0,1578.25 H115.5 M110.0,1543.88 H115.5 M110.0,1509.50 H115.5" stroke="#005c9e" stroke-width="1.200" fill="none"/>
<text x="104.300" y="1787.9" text-anchor="end" font-size="11.300" fill="#07609f" letter-spacing=".35">0 mm</text>
<text x="104.300" y="1753.5" text-anchor="end" font-size="11.300" fill="#07609f" letter-spacing=".35">100 mm</text>
<text x="104.300" y="1719.2" text-anchor="end" font-size="11.300" fill="#07609f" letter-spacing=".35">200 mm</text>
<text x="104.300" y="1684.8" text-anchor="end" font-size="11.300" fill="#07609f" letter-spacing=".35">300 mm</text>
<text x="104.300" y="1650.4" text-anchor="end" font-size="11.300" fill="#07609f" letter-spacing=".35">400 mm</text>
<text x="104.300" y="1616.0" text-anchor="end" font-size="11.300" fill="#07609f" letter-spacing=".35">500 mm</text>
<text x="104.300" y="1581.7" text-anchor="end" font-size="11.300" fill="#07609f" letter-spacing=".35">600 mm</text>
<text x="104.300" y="1547.3" text-anchor="end" font-size="11.300" fill="#07609f" letter-spacing=".35">700 mm</text>
<text x="104.300" y="1512.9" text-anchor="end" font-size="11.300" fill="#07609f" letter-spacing=".35">800 mm</text>
<text x="139.3" y="1804.800" text-anchor="middle" font-size="13" fill="#07609f" letter-spacing=".25">Jan</text>
<text x="190.6" y="1804.800" text-anchor="middle" font-size="13" fill="#07609f" letter-spacing=".25">Feb</text>
<text x="241.9" y="1804.800" text-anchor="middle" font-size="13" fill="#07609f" letter-spacing=".25">Mär</text>
<text x="293.2" y="1804.800" text-anchor="middle" font-size="13" fill="#07609f" letter-spacing=".25">Apr</text>
<text x="344.5" y="1804.800" text-anchor="middle" font-size="13" fill="#07609f" letter-spacing=".25">Mai</text>
<text x="395.8" y="1804.800" text-anchor="middle" font-size="13" fill="#07609f" letter-spacing=".25">Jun</text>
<text x="447.1" y="1804.800" text-anchor="middle" font-size="13" fill="#07609f" letter-spacing=".25">Jul</text>
<text x="498.4" y="1804.800" text-anchor="middle" font-size="13" fill="#07609f" letter-spacing=".25">Aug</text>
<text x="549.7" y="1804.800" text-anchor="middle" font-size="13" fill="#07609f" letter-spacing=".25">Sep</text>
<text x="601.0" y="1804.800" text-anchor="middle" font-size="13" fill="#07609f" letter-spacing=".25">Okt</text>
<text x="652.3" y="1804.800" text-anchor="middle" font-size="13" fill="#07609f" letter-spacing=".25">Nov</text>
<text x="703.6" y="1804.800" text-anchor="middle" font-size="13" fill="#07609f" letter-spacing=".25">Dez</text>
<text transform="translate(50.500,1647) rotate(-90)" text-anchor="middle" font-size="13" fill="#07609f" letter-spacing=".75">Niederschlag</text>
<rect x="312" y="1834" width="8" height="8" fill="#005c9e"/>
<text x="328" y="1842.500" font-size="13" fill="#07609f" letter-spacing=".62">Niederschlagssumme</text>
</svg>
<div class="p" id="pp1" style="left:785px;top:1503.7px">Die durchschnittliche jährliche<br>Niederschlagsmenge in Kumaon beträgt<br>etwa 2334 mm. Der Unterschied<br>zwischen der höchsten<br>Niederschlagsmenge (Juli) und der<br>niedrigsten (November) beträgt 769<br>mm.</div>
<div class="p" id="pp2" style="left:785px;top:1694.1px">Die meisten Niederschläge fallen im Juli,<br>mit einer monatlichen<br>Niederschlagsmenge von 776 mm in<br>diesem Zeitraum und einer<br>Niederschlagswahrscheinlichkeit von<br>etwa 83%. Die geringsten<br>Niederschlagsmengen werden dagegen<br>im November mit durchschnittlich 6.9<br>mm und einer Wahrscheinlichkeit von<br>3% verzeichnet.</div>
<div class="t b dk" id="hn" style="-webkit-text-stroke:.3px;left:785px;top:1937.9px;font-size:19.6px;transform-origin:left;transform:scaleX(.92)">NIEDERSCHLAG NACH TYP</div>
<div class="p" id="pr1" style="left:785px;top:1968.6px;letter-spacing:-.3px">• Regen: 99%</div>
<div class="p" id="pr2" style="left:785px;top:1997.2px;letter-spacing:-.3px">• Schnee: 1%</div>
<!--PROB-->
<!-- PROBABILITY PANEL -->
<div class="abs" style="left:37px;top:1870px;width:703px;height:150.700px;background:#b0dcff;border-radius:6px;overflow:hidden"><div class="abs" style="left:0;top:0;width:703px;height:31px;background:#2d9cdf"></div></div>
<div class="t b" id="ph" style="-webkit-text-stroke:.3px;left:37px;width:703px;text-align:center;top:1878.900px;font-size:17px;color:#fff;transform:scaleX(.9)">NIEDERSCHLAGSWAHRSCHEINLICHKEIT</div>
<div class="drop" style="left:41.90px"><svg width="50" height="76" viewBox="0 0 50 76"><path d="M25,0 C29,7 50,34 50,50.400 A25,25 0 0 1 0,50.400 C0,34 21,7 25,0 Z" fill="#2d9cdf"/></svg><span style="color:#fff">14%</span></div>
<div class="dm" style="left:36.90px;padding-right:4px">JAN</div>
<div class="drop" style="left:100.32px"><svg width="50" height="76" viewBox="0 0 50 76"><path d="M25,0 C29,7 50,34 50,50.400 A25,25 0 0 1 0,50.400 C0,34 21,7 25,0 Z" fill="#2d9cdf"/></svg><span style="color:#fff">15%</span></div>
<div class="dm" style="left:95.32px">FEB</div>
<div class="drop" style="left:158.74px"><svg width="50" height="76" viewBox="0 0 50 76"><path d="M25,0 C29,7 50,34 50,50.400 A25,25 0 0 1 0,50.400 C0,34 21,7 25,0 Z" fill="#2d9cdf"/></svg><span style="color:#fff">10%</span></div>
<div class="dm" style="left:153.74px">MÄR</div>
<div class="drop" style="left:217.16px"><svg width="50" height="76" viewBox="0 0 50 76"><path d="M25,0 C29,7 50,34 50,50.400 A25,25 0 0 1 0,50.400 C0,34 21,7 25,0 Z" fill="#2d9cdf"/></svg><span style="color:#fff">8%</span></div>
<div class="dm" style="left:212.16px">APR</div>
<div class="drop" style="left:275.58px"><svg width="50" height="76" viewBox="0 0 50 76"><path d="M25,0 C29,7 50,34 50,50.400 A25,25 0 0 1 0,50.400 C0,34 21,7 25,0 Z" fill="#2d9cdf"/></svg><span style="color:#fff">6%</span></div>
<div class="dm" style="left:270.58px">MAI</div>
<div class="drop" style="left:334.00px"><svg width="50" height="76" viewBox="0 0 50 76"><path d="M25,0 C29,7 50,34 50,50.400 A25,25 0 0 1 0,50.400 C0,34 21,7 25,0 Z" fill="#005c9e"/></svg><span style="color:#fff">29%</span></div>
<div class="dm" style="left:329.00px;padding-right:4px">JUN</div>
<div class="drop" style="left:392.42px"><svg width="50" height="76" viewBox="0 0 50 76"><path d="M25,0 C29,7 50,34 50,50.400 A25,25 0 0 1 0,50.400 C0,34 21,7 25,0 Z" fill="#005c9e"/></svg><span style="color:#fff">83%</span></div>
<div class="dm" style="left:387.42px;padding-right:4px">JUL</div>
<div class="drop" style="left:450.84px"><svg width="50" height="76" viewBox="0 0 50 76"><path d="M25,0 C29,7 50,34 50,50.400 A25,25 0 0 1 0,50.400 C0,34 21,7 25,0 Z" fill="#005c9e"/></svg><span style="color:#fff">89%</span></div>
<div class="dm" style="left:445.84px">AUG</div>
<div class="drop" style="left:509.26px"><svg width="50" height="76" viewBox="0 0 50 76"><path d="M25,0 C29,7 50,34 50,50.400 A25,25 0 0 1 0,50.400 C0,34 21,7 25,0 Z" fill="#005c9e"/></svg><span style="color:#fff">50%</span></div>
<div class="dm" style="left:504.26px">SEP</div>
<div class="drop" style="left:567.68px"><svg width="50" height="76" viewBox="0 0 50 76"><path d="M25,0 C29,7 50,34 50,50.400 A25,25 0 0 1 0,50.400 C0,34 21,7 25,0 Z" fill="#2d9cdf"/></svg><span style="color:#fff">8%</span></div>
<div class="dm" style="left:562.68px">OKT</div>
<div class="drop" style="left:626.10px"><svg width="50" height="76" viewBox="0 0 50 76"><path d="M25,0 C29,7 50,34 50,50.400 A25,25 0 0 1 0,50.400 C0,34 21,7 25,0 Z" fill="#eef7ff"/></svg><span style="color:#005c9e">3%</span></div>
<div class="dm" style="left:621.10px">NOV</div>
<div class="drop" style="left:684.52px"><svg width="50" height="76" viewBox="0 0 50 76"><path d="M25,0 C29,7 50,34 50,50.400 A25,25 0 0 1 0,50.400 C0,34 21,7 25,0 Z" fill="#2d9cdf"/></svg><span style="color:#fff">5%</span></div>
<div class="dm" style="left:679.52px">DEZ</div>
<!--FOOTER-->
<!-- FOOTER -->
<div class="abs" style="left:0;top:2083px;width:1200px;height:57px;background:#005c9e"></div>
<svg class="abs" style="left:36px;top:2088px" width="145" height="48" viewBox="36 2088 145 48" fill="none" stroke="#a9dbff" stroke-width="3.300">
  <circle cx="58.100" cy="2111.300" r="16.900"/><circle cx="106.500" cy="2111.300" r="16.900"/><circle cx="154.800" cy="2111.300" r="16.900"/>
  <text x="58.100" y="2117" text-anchor="middle" font-family="Liberation Sans, sans-serif" font-weight="bold" font-size="16.500" fill="#a9dbff" stroke="#a9dbff" stroke-width=".7" letter-spacing="-1.300">CC</text>
  <circle cx="106.400" cy="2101.900" r="2.700" fill="#a9dbff" stroke="none"/>
  <path d="M101.300,2105.300 H111.300 V2113.700 H109.300 V2123 H103.700 V2113.700 H101.300 Z" fill="#a9dbff" stroke="none"/>
  <path d="M148,2108.900 H162 M148,2114.500 H162" stroke-width="2.900"/>
</svg>
<div class="t b" id="cc" style="left:185.7px;top:2104.2px;font-size:15.5px;color:#a9dbff;letter-spacing:1.15px;-webkit-text-stroke:.45px #a9dbff">CC BY-ND 4.0</div>
<div class="t b" id="ma" style="-webkit-text-stroke:.4px;right:42.5px;top:2100.9px;font-size:22.5px;color:#fff;transform-origin:right;transform:scaleX(.93)">METEOATLAS.DE</div>
<div class="frame"></div>
</div>
</body>
</html>
